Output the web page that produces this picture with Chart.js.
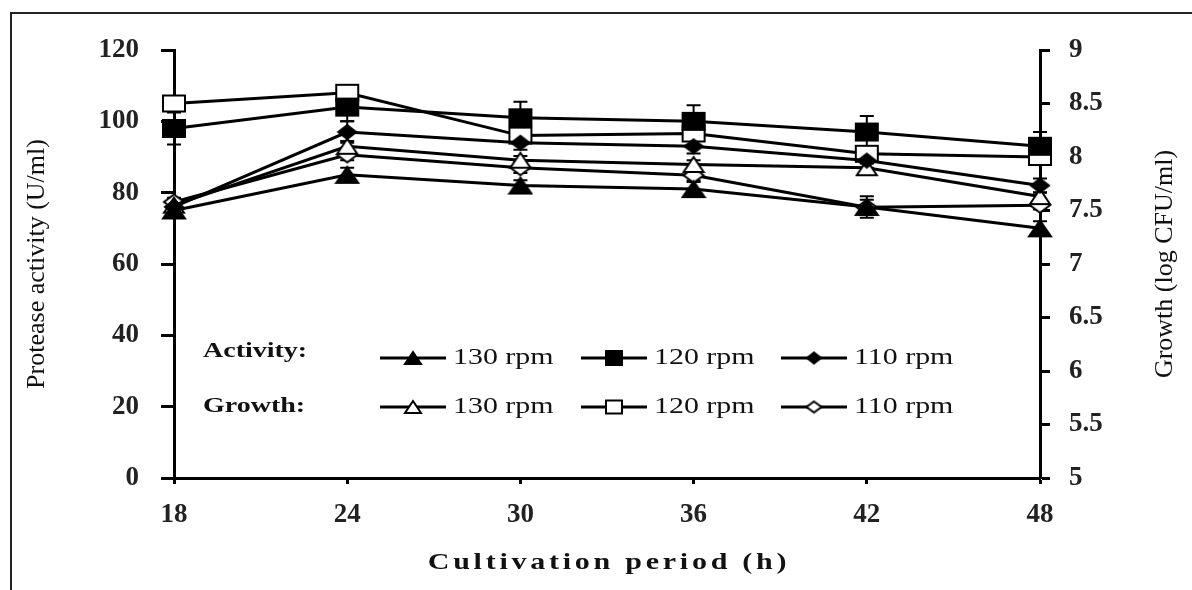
<!DOCTYPE html>
<html>
<head>
<meta charset="utf-8">
<script src="https://cdn.jsdelivr.net/npm/chart.js@4.4.1/dist/chart.umd.min.js"></script>
<style>
  html, body { margin: 0; padding: 0; background: #fff; }
  #wrap { position: relative; width: 1192px; height: 590px; overflow: hidden; }
  #frame { position: absolute; left: 10px; top: 12px; width: 1200px; height: 600px;
           border-left: 2px solid #222; border-top: 2px solid #222; }
  #chart { position: absolute; left: 0; top: 0; }
</style>
</head>
<body>
<div id="wrap">
  <div id="frame"></div>
  <canvas id="chart" width="1192" height="590"></canvas>
</div>
<script>
// cultivation period (h)
const hours = [18, 24, 30, 36, 42, 48];

// protease activity (U/ml), left axis
const activity130 = [75, 85, 82, 81, 76, 70];
const activity120 = [98, 104, 101, 100, 97, 93];
const activity110 = [76, 97, 94, 93, 89, 82];
const activity130Err = [2, 2, 1.5, 2, 3, 2];
const activity120Err = [4.5, 4, 4.5, 4.5, 4.5, 4];
const activity110Err = [2, 3, 2, 2, 2, 2];

// growth (log CFU/ml), right axis
const growth130 = [7.55, 8.1, 7.97, 7.93, 7.9, 7.63];
const growth120 = [8.5, 8.6, 8.2, 8.22, 8.03, 8.0];
const growth110 = [7.58, 8.02, 7.9, 7.83, 7.53, 7.55];
const growth130Err = [0.04, 0.05, 0.04, 0.04, 0.04, 0.04];
const growth120Err = [0.03, 0.05, 0.05, 0.04, 0.05, 0.05];
const growth110Err = [0.04, 0.05, 0.05, 0.05, 0.07, 0.04];

const leftTicks = [0, 20, 40, 60, 80, 100, 120];
const rightTicks = [5, 5.5, 6, 6.5, 7, 7.5, 8, 8.5, 9];

const serif = "'Liberation Serif', 'DejaVu Serif', serif";

// marker images (the original figure is stretched sideways)
function marker(shape, w, h, filled) {
  const c = document.createElement("canvas");
  const pad = 2;
  c.width = w + pad * 2;
  c.height = h + pad * 2;
  const g = c.getContext("2d");
  g.translate(pad, pad);
  g.beginPath();
  if (shape === "tri") {
    g.moveTo(w / 2, 0); g.lineTo(w, h); g.lineTo(0, h); g.closePath();
  } else if (shape === "sq") {
    g.rect(0, 0, w, h);
  } else {
    g.moveTo(w / 2, 0); g.lineTo(w, h / 2); g.lineTo(w / 2, h); g.lineTo(0, h / 2); g.closePath();
  }
  g.fillStyle = filled ? "#000" : "#fff";
  g.fill();
  g.lineWidth = 2;
  g.strokeStyle = "#000";
  g.stroke();
  return c;
}

const mk = {
  triF: marker("tri", 22, 16, true),
  sqF: marker("sq", 22, 17, true),
  diaF: marker("dia", 18, 14, true),
  triO: marker("tri", 20, 15, false),
  sqO: marker("sq", 22, 16, false),
  diaO: marker("dia", 20, 15, false),
};
const legendMk = {
  triF: marker("tri", 16, 12, true),
  sqF: marker("sq", 16, 14, true),
  diaF: marker("dia", 14, 11, true),
  triO: marker("tri", 16, 12, false),
  sqO: marker("sq", 16, 13, false),
  diaO: marker("dia", 15, 11, false),
};

function toXY(vals) {
  return vals.map((v, i) => ({ x: hours[i], y: v }));
}

function series(label, vals, err, axis, style) {
  return {
    label: label,
    data: toXY(vals),
    err: err,
    yAxisID: axis,
    borderColor: "#000",
    backgroundColor: "#000",
    borderWidth: 3,
    pointStyle: style,
    pointRadius: 6,
    tension: 0,
    clip: false,
  };
}

// error bars, drawn under the lines
const errorBars = {
  id: "errorBars",
  beforeDatasetsDraw(chart) {
    const ctx = chart.ctx;
    ctx.save();
    ctx.strokeStyle = "#000";
    ctx.lineWidth = 2;
    chart.data.datasets.forEach((ds, i) => {
      const meta = chart.getDatasetMeta(i);
      const sc = chart.scales[ds.yAxisID];
      meta.data.forEach((pt, j) => {
        const v = ds.data[j].y, e = ds.err[j];
        const y1 = sc.getPixelForValue(v - e), y2 = sc.getPixelForValue(v + e);
        ctx.beginPath();
        ctx.moveTo(pt.x, y1); ctx.lineTo(pt.x, y2);
        ctx.moveTo(pt.x - 7, y1); ctx.lineTo(pt.x + 7, y1);
        ctx.moveTo(pt.x - 7, y2); ctx.lineTo(pt.x + 7, y2);
        ctx.stroke();
      });
    });
    ctx.restore();
  },
};

function stretchText(ctx, text, x, y, sx, align) {
  ctx.save();
  ctx.translate(x, y);
  ctx.scale(sx, 1);
  ctx.textAlign = align || "left";
  ctx.fillText(text, 0, 0);
  ctx.restore();
}

// legend block, axis titles drawn by hand
const extras = {
  id: "extras",
  afterDraw(chart) {
    const ctx = chart.ctx;
    ctx.save();
    ctx.fillStyle = "#111";
    ctx.textBaseline = "middle";

    // legend
    ctx.font = "bold 20px " + serif;
    stretchText(ctx, "Activity:", 203, 352, 1.4);
    stretchText(ctx, "Growth:", 203, 407, 1.4);

    const rows = [
      { y: 358, items: [["triF", "130 rpm"], ["sqF", "120 rpm"], ["diaF", "110 rpm"]] },
      { y: 407, items: [["triO", "130 rpm"], ["sqO", "120 rpm"], ["diaO", "110 rpm"]] },
    ];
    const starts = [380, 581, 781];
    ctx.font = "23px " + serif;
    rows.forEach(r => {
      r.items.forEach((it, k) => {
        const x0 = starts[k];
        ctx.strokeStyle = "#000";
        ctx.lineWidth = 3;
        ctx.beginPath();
        ctx.moveTo(x0, r.y); ctx.lineTo(x0 + 66, r.y);
        ctx.stroke();
        const img = legendMk[it[0]];
        ctx.drawImage(img, x0 + 33 - img.width / 2, r.y - img.height / 2);
        stretchText(ctx, it[1], x0 + 73, r.y, 1.3);
      });
    });

    // right axis title, reads bottom to top
    ctx.save();
    ctx.translate(1165, 264);
    ctx.rotate(-Math.PI / 2);
    ctx.font = "26px " + serif;
    ctx.textAlign = "center";
    ctx.fillText("Growth (log CFU/ml)", 0, 0);
    ctx.restore();

    // x title, letter spaced
    ctx.font = "bold 24px " + serif;
    ctx.letterSpacing = "3px";
    stretchText(ctx, "Cultivation period (h)", 609, 563, 1.25, "center");
    ctx.letterSpacing = "0px";
    ctx.restore();
  },
};

const tickFont = { family: serif, size: 27, weight: "bold" };

const ctx = document.getElementById("chart").getContext("2d");
const myChart = new Chart(ctx, {
  type: "line",
  data: {
    datasets: [
      series("Activity 130 rpm", activity130, activity130Err, "y", mk.triF),
      series("Activity 120 rpm", activity120, activity120Err, "y", mk.sqF),
      series("Activity 110 rpm", activity110, activity110Err, "y", mk.diaF),
      series("Growth 130 rpm", growth130, growth130Err, "y2", mk.triO),
      series("Growth 120 rpm", growth120, growth120Err, "y2", mk.sqO),
      series("Growth 110 rpm", growth110, growth110Err, "y2", mk.diaO),
    ],
  },
  options: {
    responsive: false,
    animation: false,
    layout: { padding: { top: 50, left: 0, right: 0, bottom: 0 } },
    plugins: { legend: { display: false }, tooltip: { enabled: false } },
    scales: {
      x: {
        type: "linear",
        min: 18,
        max: 48,
        afterBuildTicks: s => { s.ticks = hours.map(v => ({ value: v })); },
        afterFit: s => { s.height = 112; },
        ticks: { font: tickFont, color: "#222", padding: 15, maxRotation: 0 },
        grid: { drawOnChartArea: false, tickLength: 6, tickWidth: 3, color: "#000" },
        border: { width: 3, color: "#000" },
      },
      y: {
        position: "left",
        min: 0,
        max: 120,
        afterBuildTicks: s => { s.ticks = leftTicks.map(v => ({ value: v })); },
        afterFit: s => { s.width = 174; },
        ticks: { font: tickFont, color: "#222", padding: 22 },
        grid: { drawOnChartArea: false, tickLength: 13, tickWidth: 3, color: "#000" },
        border: { width: 3, color: "#000" },
        title: {
          display: true,
          text: "Protease activity (U/ml)",
          font: { family: serif, size: 26 },
          color: "#111",
          padding: { top: 22, bottom: 0 },
        },
      },
      y2: {
        position: "right",
        min: 5,
        max: 9,
        afterBuildTicks: s => { s.ticks = rightTicks.map(v => ({ value: v })); },
        afterFit: s => { s.width = 152; },
        ticks: { font: tickFont, color: "#222", padding: 19, callback: v => String(v) },
        grid: { drawOnChartArea: false, tickLength: 10, tickWidth: 3, color: "#000" },
        border: { width: 3, color: "#000" },
      },
    },
  },
  plugins: [errorBars, extras],
});
</script>
</body>
</html>
